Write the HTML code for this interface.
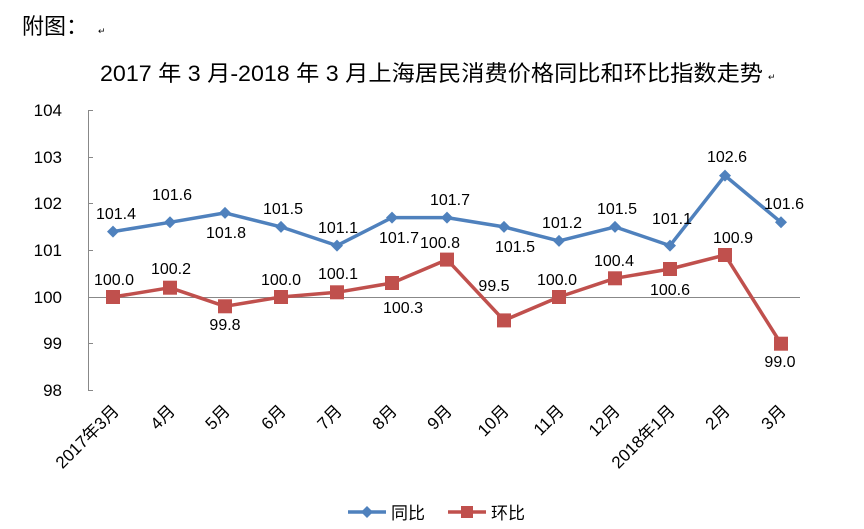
<!DOCTYPE html>
<html><head><meta charset="utf-8"><style>
body{margin:0;background:#fff;width:864px;height:529px;overflow:hidden}
svg{display:block}
text{font-family:"Liberation Sans","Noto Sans CJK SC",sans-serif;fill:#000}
</style></head><body>
<svg width="864" height="529" viewBox="0 0 864 529">
<text x="22" y="34" font-size="22" font-family="'Noto Sans CJK SC',sans-serif">附图：</text>
<text x="98" y="34" font-size="9" fill="#666">↵</text>
<text x="100" y="81" font-size="22" textLength="663" lengthAdjust="spacingAndGlyphs">2017 年 3 月-2018 年 3 月上海居民消费价格同比和环比指数走势</text>
<text x="768" y="80" font-size="9" fill="#666">↵</text>
<g stroke="#888" stroke-width="1">
<line x1="88.5" y1="110" x2="88.5" y2="390"/>
<line x1="88" y1="110.5" x2="93" y2="110.5"/>
<line x1="88" y1="157.5" x2="93" y2="157.5"/>
<line x1="88" y1="203.5" x2="93" y2="203.5"/>
<line x1="88" y1="250.5" x2="93" y2="250.5"/>
<line x1="88" y1="343.5" x2="93" y2="343.5"/>
<line x1="88" y1="390.5" x2="93" y2="390.5"/>
<line x1="88" y1="297.5" x2="800" y2="297.5"/>
</g>
<g font-size="17" text-anchor="end">
<text x="62" y="116">104</text><text x="62" y="163">103</text><text x="62" y="209">102</text>
<text x="62" y="256">101</text><text x="62" y="303">100</text><text x="62" y="349">99</text><text x="62" y="396">98</text>
</g>
<g font-size="17" text-anchor="end">
<text transform="translate(120,412) rotate(-45)">2017年3月</text>
<text transform="translate(176,412) rotate(-45)">4月</text>
<text transform="translate(231,412) rotate(-45)">5月</text>
<text transform="translate(287,412) rotate(-45)">6月</text>
<text transform="translate(343,412) rotate(-45)">7月</text>
<text transform="translate(398,412) rotate(-45)">8月</text>
<text transform="translate(453,412) rotate(-45)">9月</text>
<text transform="translate(510,412) rotate(-45)">10月</text>
<text transform="translate(565,412) rotate(-45)">11月</text>
<text transform="translate(621,412) rotate(-45)">12月</text>
<text transform="translate(676,412) rotate(-45)">2018年1月</text>
<text transform="translate(731,412) rotate(-45)">2月</text>
<text transform="translate(787,412) rotate(-45)">3月</text>
</g>
<polyline fill="none" stroke="#4F81BD" stroke-width="3.5" stroke-linejoin="round" points="113,231.6 170,222.3 225,212.9 281,226.9 337,245.6 392,217.6 447,217.6 504,226.9 559,240.9 615,226.9 670,245.6 725,175.6 781,222.3"/>
<g fill="#4F81BD">
<path d="M113,225.6l6,6-6,6-6-6z"/><path d="M170,216.3l6,6-6,6-6-6z"/><path d="M225,206.9l6,6-6,6-6-6z"/><path d="M281,220.9l6,6-6,6-6-6z"/><path d="M337,239.6l6,6-6,6-6-6z"/><path d="M392,211.6l6,6-6,6-6-6z"/><path d="M447,211.6l6,6-6,6-6-6z"/><path d="M504,220.9l6,6-6,6-6-6z"/><path d="M559,234.9l6,6-6,6-6-6z"/><path d="M615,220.9l6,6-6,6-6-6z"/><path d="M670,239.6l6,6-6,6-6-6z"/><path d="M725,169.6l6,6-6,6-6-6z"/><path d="M781,216.3l6,6-6,6-6-6z"/>
</g>
<polyline fill="none" stroke="#C0504D" stroke-width="3.5" stroke-linejoin="round" points="113,297 170,287.7 225,306.3 281,297 337,292.3 392,283 447,259.6 504,320.4 559,297 615,278.3 670,269 725,255 781,343.7"/>
<g fill="#C0504D">
<rect x="106" y="290" width="14" height="14"/><rect x="163" y="280.7" width="14" height="14"/><rect x="218" y="299.3" width="14" height="14"/><rect x="274" y="290" width="14" height="14"/><rect x="330" y="285.3" width="14" height="14"/><rect x="385" y="276" width="14" height="14"/><rect x="440" y="252.6" width="14" height="14"/><rect x="497" y="313.4" width="14" height="14"/><rect x="552" y="290" width="14" height="14"/><rect x="608" y="271.3" width="14" height="14"/><rect x="663" y="262" width="14" height="14"/><rect x="718" y="248" width="14" height="14"/><rect x="774" y="336.7" width="14" height="14"/>
</g>
<g font-size="16" text-anchor="middle">
<text x="116" y="219">101.4</text><text x="172" y="200">101.6</text><text x="226" y="238">101.8</text><text x="283" y="214">101.5</text>
<text x="338" y="233">101.1</text><text x="399" y="243">101.7</text><text x="450" y="205">101.7</text><text x="515" y="252">101.5</text>
<text x="562" y="228">101.2</text><text x="617" y="214">101.5</text><text x="672" y="224">101.1</text><text x="727" y="162">102.6</text><text x="784" y="209">101.6</text>
<text x="114" y="285">100.0</text><text x="171" y="274">100.2</text><text x="225" y="330">99.8</text><text x="281" y="285">100.0</text>
<text x="338" y="279">100.1</text><text x="403" y="313">100.3</text><text x="440" y="248">100.8</text><text x="494" y="291">99.5</text>
<text x="557" y="285">100.0</text><text x="614" y="266">100.4</text><text x="670" y="295">100.6</text><text x="733" y="243">100.9</text><text x="780" y="367">99.0</text>
</g>
<line x1="348" y1="512" x2="386" y2="512" stroke="#4F81BD" stroke-width="3.5"/>
<path d="M367,506l6,6-6,6-6-6z" fill="#4F81BD"/>
<text x="391" y="519" font-size="17">同比</text>
<line x1="448" y1="512" x2="486" y2="512" stroke="#C0504D" stroke-width="3.5"/>
<rect x="461" y="506" width="12" height="12" fill="#C0504D"/>
<text x="491" y="519" font-size="17">环比</text>
</svg>
</body></html>
